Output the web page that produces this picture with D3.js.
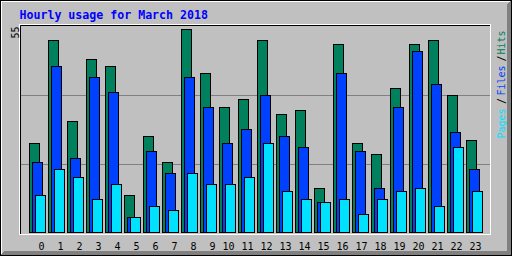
<!DOCTYPE html>
<html>
<head>
<meta charset="utf-8">
<script src="https://cdn.jsdelivr.net/npm/d3@7"></script>
<style>
  body { margin: 0; background: #fff; }
  svg { display: block; }
</style>
</head>
<body>
<svg id="chart" width="512" height="256"></svg>
<script>
// chart data
const title = "Hourly usage for March 2018";
const hourLabels = ["0","1","2","3","4","5","6","7","8","9","10","11",
                    "12","13","14","15","16","17","18","19","20","21","22","23"];
const hits  = [24,52,30,47,45,10,26,19,55,43,34,36,52,32,33,12,51,24,21,39,51,52,37,25];
const files = [19,45,20,42,38, 4,22,16,42,34,24,28,37,26,23, 8,43,22,12,34,49,40,27,17];
const pages = [10,17,15, 9,13, 4, 7, 6,16,13,13,15,24,11, 9, 8, 9, 5, 9,11,12, 7,23,11];
const yMax = 55;
const yMaxLabel = "55";

const series = [
    { name: "Hits",  values: hits,  color: "#00805C", offset: 0 },
    { name: "Files", values: files, color: "#0040FF", offset: 3 },
    { name: "Pages", values: pages, color: "#00E0FF", offset: 6 }
];

const W = 512, H = 256;
const svg = d3.select("#chart");
const font = "'DejaVu Sans Mono', monospace";

// background
svg.append("rect").attr("width", W).attr("height", H).attr("fill", "#C0C0C0");

// bevel: dark bottom/right, white top/left, black outline
for (let i = 1; i <= 4; i++) {
    svg.append("line").attr("x1", i).attr("x2", W - 1).attr("y1", H - 1 - i + 0.5).attr("y2", H - 1 - i + 0.5)
        .attr("stroke", "#808080");
    svg.append("line").attr("y1", i).attr("y2", H - 1).attr("x1", W - 1 - i + 0.5).attr("x2", W - 1 - i + 0.5)
        .attr("stroke", "#808080");
}
svg.append("line").attr("x1", 1).attr("x2", W - 2).attr("y1", 1.5).attr("y2", 1.5).attr("stroke", "#fff");
svg.append("line").attr("x1", 1.5).attr("x2", 1.5).attr("y1", 1).attr("y2", H - 2).attr("stroke", "#fff");
svg.append("rect").attr("x", 0.5).attr("y", 0.5).attr("width", W - 1).attr("height", H - 1)
    .attr("fill", "none").attr("stroke", "#000");

// plot frame
svg.append("rect").attr("x", 19.5).attr("y", 24.5).attr("width", 471).attr("height", 210)
    .attr("fill", "none").attr("stroke", "#fff");
svg.append("path").attr("d", "M20.5,234V25.5H490")
    .attr("fill", "none").attr("stroke", "#000");

// scales
const x = d3.scaleLinear().domain([0, 23]).range([29, 29 + 23 * 19]);
const y = d3.scaleLinear().domain([0, yMax]).range([232, 29]);
const grid = d3.scaleLinear().domain([0, 3]).range([26, 233]);

// grid lines
svg.append("g").selectAll("line")
    .data([1, 2])
    .join("line")
    .attr("x1", 21).attr("x2", 490)
    .attr("y1", d => Math.round(grid(d)) + 0.5)
    .attr("y2", d => Math.round(grid(d)) + 0.5)
    .attr("stroke", "#808080");

// bars
series.forEach(s => {
    svg.append("g").selectAll("rect")
        .data(s.values)
        .join("rect")
        .attr("x", (d, i) => x(i) + s.offset + 0.5)
        .attr("y", d => Math.round(y(d)) + 0.5)
        .attr("width", 10)
        .attr("height", d => 232 - Math.round(y(d)))
        .attr("fill", s.color)
        .attr("stroke", "#000")
        .attr("stroke-width", 1);
});

// title
svg.append("text")
    .attr("x", 19.5).attr("y", 19)
    .attr("font-family", font).attr("font-weight", "bold").attr("font-size", "11.6px")
    .attr("fill", "#0000FF")
    .text(title);

// hour labels
svg.append("g").selectAll("text")
    .data(hourLabels)
    .join("text")
    .attr("x", (d, i) => x(i) + 15.5)
    .attr("y", 249.5)
    .attr("text-anchor", "end")
    .attr("font-family", font).attr("font-size", "10px")
    .attr("fill", "#000")
    .text(d => d);

// y max label
svg.append("text")
    .attr("transform", "translate(19.3,26.5) rotate(-90)")
    .attr("text-anchor", "end")
    .attr("font-family", font).attr("font-size", "10px")
    .attr("fill", "#000")
    .text(yMaxLabel);

// legend on the right, reading upward
const legend = [
    { text: "Pages", color: "#00E0FF", y: 138.5 },
    { text: "/",     color: "#000",    y: 104 },
    { text: "Files", color: "#0040FF", y: 95.5 },
    { text: "/",     color: "#000",    y: 61.5 },
    { text: "Hits",  color: "#00805C", y: 54.5 }
];
svg.append("g").selectAll("text")
    .data(legend)
    .join("text")
    .attr("transform", d => `translate(504.5,${d.y}) rotate(-90)`)
    .attr("font-family", font).attr("font-size", "10px")
    .attr("fill", d => d.color)
    .text(d => d.text);
</script>
</body>
</html>
